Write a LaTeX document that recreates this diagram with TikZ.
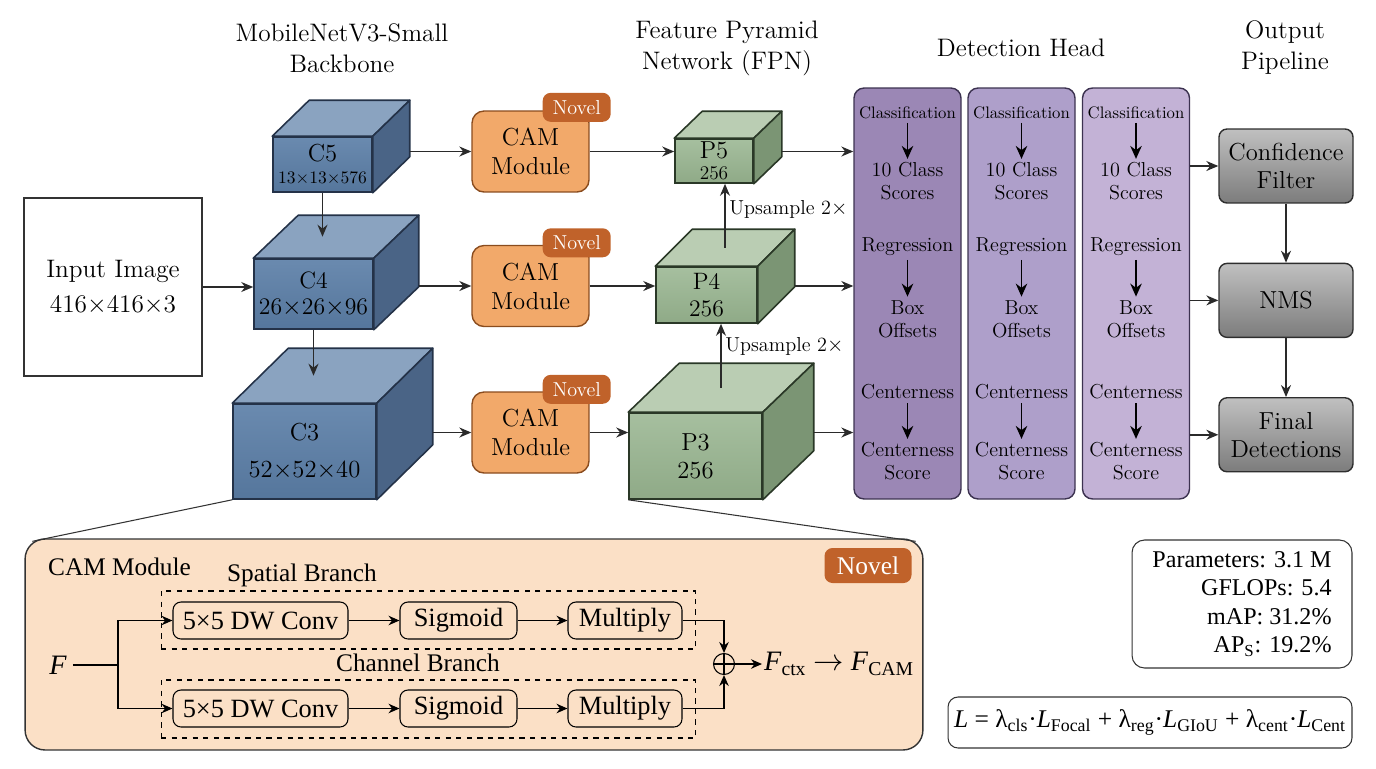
\documentclass[tikz,border=0pt]{standalone}
\usepackage{fontspec}
\usepackage{tikz}
\usetikzlibrary{arrows.meta,positioning,calc}
\newfontfamily\timesf{Liberation Serif}

\definecolor{bbfront}{HTML}{55769C}
\definecolor{bbhi}{HTML}{6A8AAF}
\definecolor{bbtop}{HTML}{8AA3C0}
\definecolor{bbside}{HTML}{4A6486}
\definecolor{bbline}{HTML}{243248}
\definecolor{fpnfront}{HTML}{8FAA87}
\definecolor{fpnhi}{HTML}{A6BF9F}
\definecolor{fpntop}{HTML}{BACDB3}
\definecolor{fpnside}{HTML}{7B9574}
\definecolor{fpnline}{HTML}{2A3827}
\definecolor{camfill}{HTML}{F2A96A}
\definecolor{camline}{HTML}{8A4C1E}
\definecolor{novelfill}{HTML}{C0622A}
\definecolor{headA}{HTML}{9B87B5}
\definecolor{headB}{HTML}{AE9FCA}
\definecolor{headC}{HTML}{C3B2D6}
\definecolor{headline}{HTML}{3C3250}
\definecolor{outhi}{HTML}{C0C0C0}
\definecolor{outlo}{HTML}{7C7C7C}
\definecolor{outedge}{HTML}{2E2E2E}
\definecolor{panelfill}{HTML}{FBE0C6}
\definecolor{panelline}{HTML}{333333}
\definecolor{arrline}{HTML}{2A2A2A}

% top and side faces of a feature-map block
\newcommand{\cubefaces}[5]{%
  \draw[#5, line width=0.9pt, line join=round, fill=#3] (#1.north west) -- ++(#2) -- ($(#1.north east)+(#2)$) -- (#1.north east) -- cycle;
  \draw[#5, line width=0.9pt, line join=round, fill=#4] (#1.north east) -- ($(#1.north east)+(#2)$) -- ($(#1.south east)+(#2)$) -- (#1.south east) -- cycle;
  \coordinate (#1-t) at ($(#1.north)+0.5*(#2)$);
  \coordinate (#1-r) at ($(#1.east)+(#2)$);
}

\begin{document}
\begin{tikzpicture}[x=0.02cm, y=-0.02cm,
  title/.style={align=center, font=\fontsize{14.4}{17.6}\selectfont},
  bbcube/.style={draw=bbline, line width=0.9pt, top color=bbhi, bottom color=bbfront, inner sep=0pt, align=center, font=\fontsize{13.5}{15}\selectfont},
  fpncube/.style={draw=fpnline, line width=0.9pt, top color=fpnhi, bottom color=fpnfront, inner sep=0pt, align=center, font=\fontsize{13.5}{15}\selectfont},
  cam/.style={draw=camline, thick, fill=camfill, rounded corners=0.24cm, minimum width=2.34cm, minimum height=1.62cm, align=center, font=\fontsize{14}{16.5}\selectfont},
  novel/.style={fill=novelfill, text=white, rounded corners=0.16cm, minimum width=1.36cm, minimum height=0.58cm, inner sep=0pt, font=\fontsize{11.5}{13}\selectfont},
  head/.style={draw=headline, thick, rounded corners=0.2cm, minimum width=2.14cm, minimum height=8.22cm},
  htxt/.style={align=center, inner sep=2pt, font=\fontsize{11.5}{13}\selectfont},
  outbox/.style={draw=outedge, thick, rounded corners=0.16cm, top color=outhi, bottom color=outlo, minimum width=2.68cm, minimum height=1.48cm, align=center, font=\fontsize{14}{16}\selectfont},
  panel/.style={draw=panelline, thick, fill=panelfill, rounded corners=0.4cm},
  branch/.style={draw, semithick, dashed, minimum width=10.7cm, minimum height=1.16cm},
  inbox/.style={draw, semithick, rounded corners=0.16cm, minimum height=0.74cm, font=\timesf\fontsize{15}{17}\selectfont},
  ptxt/.style={font=\timesf\fontsize{14.4}{16}\selectfont},
  ulabel/.style={right, inner sep=2pt, font=\fontsize{11.5}{13}\selectfont},
  arr/.style={-{Stealth[length=2.4mm, width=2mm]}, line width=0.9pt, draw=arrline},
  harr/.style={-{Stealth[length=2.6mm, width=2.3mm]}, line width=0.9pt},
  darr/.style={-{Stealth[length=2.2mm, width=1.9mm]}, line width=0.7pt},
  zoomline/.style={draw=panelline, semithick}
]
\useasboundingbox (0,0) rectangle (1376,768);

% column titles
\node[title] (t-bb) at (342,48) {MobileNetV3-Small\\Backbone};
\node[title] (t-fpn) at (727,48) {Feature Pyramid\\Network (FPN)};
\node[title] (t-head) at (1021,48) {Detection Head};
\node[title] (t-out) at (1285,48) {Output\\Pipeline};

% input and backbone
\node[draw=panelline, semithick, minimum width=3.56cm, minimum height=3.56cm, align=center, font=\fontsize{14.4}{20}\selectfont] (input) at (113,287) {Input Image\\416$\times$416$\times$3};
\node[bbcube, minimum width=1.98cm, minimum height=1.1cm, font=\fontsize{14}{13}\selectfont] (c5) at (322.5,164.5) {C5\\{\fontsize{10}{12}\selectfont 13$\times$13$\times$576}};
\node[bbcube, minimum width=2.38cm, minimum height=1.4cm] (c4) at (313.5,294) {C4\\26$\times$26$\times$96};
\node[bbcube, minimum width=2.86cm, minimum height=1.9cm, font=\fontsize{14}{16}\selectfont] (c3) at (304.5,451.5) {C3\\[5pt]52$\times$52$\times$40};
\cubefaces{c5}{37,-36}{bbtop}{bbside}{bbline}
\cubefaces{c4}{45,-43}{bbtop}{bbside}{bbline}
\cubefaces{c3}{56,-55}{bbtop}{bbside}{bbline}

% CAM modules
\node[cam] (cam5) at (530.5,151.5) {CAM\\Module};
\node[cam] (cam4) at (530.5,286) {CAM\\Module};
\node[cam] (cam3) at (530.5,432.5) {CAM\\Module};
\node[novel] (nov5) at ([shift={(-13,-3)}]cam5.north east) {Novel};
\node[novel] (nov4) at ([shift={(-13,-2)}]cam4.north east) {Novel};
\node[novel] (nov3) at ([shift={(-13,-2)}]cam3.north east) {Novel};

% FPN
\node[fpncube, minimum width=1.56cm, minimum height=0.88cm, font=\fontsize{14}{12}\selectfont] (p5) at (714,161) {P5\\{\fontsize{11}{12}\selectfont 256}};
\node[fpncube, minimum width=2.02cm, minimum height=1.12cm] (p4) at (706.5,295) {P4\\256};
\node[fpncube, minimum width=2.66cm, minimum height=1.72cm, font=\fontsize{14}{16}\selectfont] (p3) at (695.5,456) {P3\\256};
\cubefaces{p5}{28,-27}{fpntop}{fpnside}{fpnline}
\cubefaces{p4}{37,-37}{fpntop}{fpnside}{fpnline}
\cubefaces{p3}{51,-49}{fpntop}{fpnside}{fpnline}

% detection head
\node[head, fill=headA] (head1) at (907.5,293.5) {};
\node[head, fill=headB] (head2) at (1021.5,293.5) {};
\node[head, fill=headC] (head3) at (1136,293.5) {};
\node[htxt, font=\fontsize{9.5}{11}\selectfont] (cls1) at (907.5,113) {Classification};
\node[htxt] (sc1) at (907.5,181.5) {10 Class\\Scores};
\node[htxt] (reg1) at (907.5,247) {Regression};
\node[htxt] (box1) at (907.5,319) {Box\\Offsets};
\node[htxt] (cen1) at (907.5,392) {Centerness};
\node[htxt] (cs1) at (907.5,461.5) {Centerness\\Score};
\node[htxt, font=\fontsize{9.5}{11}\selectfont] (cls2) at (1021.5,113) {Classification};
\node[htxt] (sc2) at (1021.5,181.5) {10 Class\\Scores};
\node[htxt] (reg2) at (1021.5,247) {Regression};
\node[htxt] (box2) at (1021.5,319) {Box\\Offsets};
\node[htxt] (cen2) at (1021.5,392) {Centerness};
\node[htxt] (cs2) at (1021.5,461.5) {Centerness\\Score};
\node[htxt, font=\fontsize{9.5}{11}\selectfont] (cls3) at (1136,113) {Classification};
\node[htxt] (sc3) at (1136,181.5) {10 Class\\Scores};
\node[htxt] (reg3) at (1136,247) {Regression};
\node[htxt] (box3) at (1136,319) {Box\\Offsets};
\node[htxt] (cen3) at (1136,392) {Centerness};
\node[htxt] (cs3) at (1136,461.5) {Centerness\\Score};
\draw[harr] (cls1) -- (sc1); \draw[harr] (reg1) -- (box1); \draw[harr] (cen1) -- (cs1);
\draw[harr] (cls2) -- (sc2); \draw[harr] (reg2) -- (box2); \draw[harr] (cen2) -- (cs2);
\draw[harr] (cls3) -- (sc3); \draw[harr] (reg3) -- (box3); \draw[harr] (cen3) -- (cs3);

% output pipeline
\node[outbox] (conf) at (1286,166) {Confidence\\Filter};
\node[outbox, below=1.18cm of conf] (nms) {NMS};
\node[outbox, below=1.18cm of nms] (final) {Final\\Detections};

% main connectors
\draw[arr] (input) -- (input -| c4.west);
\draw[arr] (c5.south) -- (c5.south |- c4-t);
\draw[arr] (c4.south) -- (c4.south |- c3-t);
\draw[arr] (c5-r |- cam5) -- (cam5);
\draw[arr] (c4-r |- cam4) -- (cam4);
\draw[arr] (c3-r |- cam3) -- (cam3);
\draw[arr] (cam5) -- (p5.west |- cam5);
\draw[arr] (cam4) -- (p4.west |- cam4);
\draw[arr] (cam3) -- (p3.west |- cam3);
\draw[arr] (p4-t) -- (p4-t |- p5.south) node[ulabel, pos=0.6] (up54) {Upsample 2$\times$};
\draw[arr] (p3-t) -- (p3-t |- p4.south) node[ulabel, pos=0.65] (up43) {Upsample 2$\times$};
\draw[arr] (p5-r |- cam5) -- (head1.west |- cam5);
\draw[arr] (p4-r |- cam4) -- (head1.west |- cam4);
\draw[arr] (p3-r |- cam3) -- (head1.west |- cam3);
\draw[arr] (head3.east |- conf) -- (conf);
\draw[arr] (head3.east |- nms) -- (nms);
\draw[arr] (head3.east |- final) -- (final);
\draw[arr] (conf) -- (nms);
\draw[arr] (nms) -- (final);

% CAM module detail
\node[panel, minimum width=17.96cm, minimum height=4.22cm] (panel) at (474,644.5) {};
\draw[zoomline] (c3.south west) -- ([shift={(8,3)}]panel.north west);
\draw[zoomline] (p3.south west) -- ([shift={(-8,3)}]panel.north east);
\node[ptxt, anchor=west] (ptitle) at (42,567) {CAM Module};
\node[novel, minimum width=1.74cm, minimum height=0.7cm, font=\timesf\fontsize{14.5}{16}\selectfont] (pnovel) at (868,565.5) {Novel};
\node[ptxt] (splab) at (302,575) {Spatial Branch};
\node[ptxt] (chlab) at (418,663) {Channel Branch};
\node[branch] (spbox) at (428.5,620) {};
\node[branch] (chbox) at (428.5,709) {};
\node[inbox, minimum width=3.5cm] (conv1) at (260.5,620.5) {5×5 DW Conv};
\node[inbox, minimum width=2.34cm] (sig1) at (458.5,620.5) {Sigmoid};
\node[inbox, minimum width=2.28cm] (mul1) at (625,620.5) {Multiply};
\node[inbox, minimum width=3.5cm] (conv2) at (260.5,708.5) {5×5 DW Conv};
\node[inbox, minimum width=2.34cm] (sig2) at (458.5,708.5) {Sigmoid};
\node[inbox, minimum width=2.28cm] (mul2) at (625,708.5) {Multiply};
\node[font=\timesf\itshape\fontsize{16}{18}\selectfont] (feat) at (58,665) {F};
\coordinate (split) at (118,665);
\node[circle, draw, semithick, minimum size=0.42cm, inner sep=0pt] (add) at (724,664) {};
\draw[semithick] (add.north) -- (add.south) (add.west) -- (add.east);
\node[anchor=west, inner sep=1pt, font=\timesf\fontsize{16}{18}\selectfont] (fout) at (762,664) {\textit{F}\textsubscript{ctx} $\rightarrow$ \textit{F}\textsubscript{CAM}};
\draw[semithick] (feat) -- (split);
\draw[darr] (split) |- (conv1);
\draw[darr] (split) |- (conv2);
\draw[darr] (conv1) -- (sig1);
\draw[darr] (sig1) -- (mul1);
\draw[darr] (conv2) -- (sig2);
\draw[darr] (sig2) -- (mul2);
\draw[darr] (mul1) -| (add);
\draw[darr] (mul2) -| (add);
\draw[darr] (add) -- (fout);

% metrics and loss
\node[draw=panelline, semithick, rounded corners=0.25cm, minimum width=4.4cm, minimum height=2.56cm, align=right, font=\timesf\fontsize{13.7}{16.2}\selectfont] (metrics) at (1242,604) {Parameters: 3.1 M\\GFLOPs: 5.4\hspace*{0.56cm}\\mAP: 31.2\%\\AP\textsubscript{S}: 19.2\%};
\node[draw=panelline, semithick, rounded corners=0.2cm, minimum width=8.08cm, minimum height=1.02cm, font=\timesf\fontsize{14.5}{16}\selectfont] (loss) at (1150,722.5) {\textit{L} = λ\textsubscript{cls}·\textit{L}\textsubscript{Focal} + λ\textsubscript{reg}·\textit{L}\textsubscript{GIoU} + λ\textsubscript{cent}·\textit{L}\textsubscript{Cent}};
\end{tikzpicture}
\end{document}
